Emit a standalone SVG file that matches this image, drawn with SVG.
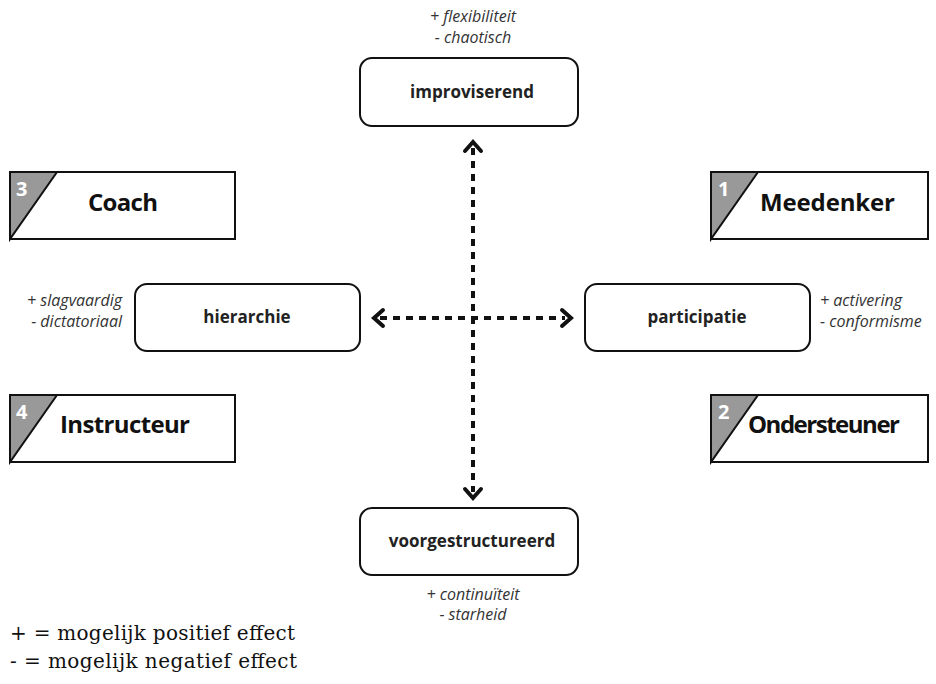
<svg xmlns="http://www.w3.org/2000/svg" width="936" height="684" viewBox="0 0 936 684">
<style>
.box{fill:#fff;stroke:#111;stroke-width:2}
.tri{fill:#999;stroke:#111;stroke-width:2}
.lbl{font-family:"Open Sans","Liberation Sans",sans-serif;font-weight:bold;font-size:17px;fill:#222;text-anchor:middle}
.role{font-family:"Open Sans","Liberation Sans",sans-serif;font-weight:bold;font-size:24px;fill:#111}
.num{font-family:"Open Sans","Liberation Sans",sans-serif;font-weight:bold;font-size:20px;fill:#fff}
.eff{font-family:"Open Sans","Liberation Sans",sans-serif;font-style:italic;font-size:16px;fill:#333}
.leg{font-family:"DejaVu Serif",serif;font-size:20px;fill:#111}
.dash{stroke:#111;stroke-width:4;stroke-dasharray:7 6;fill:none}
.head{stroke:#111;stroke-width:4;fill:none;stroke-linecap:round;stroke-linejoin:miter}
</style>
<rect width="936" height="684" fill="#fff"/>
<g id="connectors">
<line class="dash" x1="473" y1="148" x2="473" y2="492"/>
<polyline class="head" points="465,151 473,142 481,151"/>
<polyline class="head" points="465,489 473,498 481,489"/>
<line class="dash" x1="380" y1="318" x2="565" y2="318"/>
<polyline class="head" points="383,310 374,318 383,326"/>
<polyline class="head" points="562,310 571,318 562,326"/>
</g>
<g id="improviserend">
<text class="eff" x="473" y="22" text-anchor="middle">+ flexibiliteit</text>
<text class="eff" x="473" y="43" text-anchor="middle">- chaotisch</text>
<rect class="box" x="360" y="58" width="218" height="68" rx="12"/>
<text class="lbl" x="472" y="98">improviserend</text>
</g>
<g id="voorgestructureerd">
<rect class="box" x="360" y="508" width="218" height="67" rx="12"/>
<text class="lbl" x="472" y="547">voorgestructureerd</text>
<text class="eff" x="473" y="600" text-anchor="middle">+ continuïteit</text>
<text class="eff" x="473" y="620" text-anchor="middle">- starheid</text>
</g>
<g id="hierarchie">
<text class="eff" x="122" y="306" text-anchor="end">+ slagvaardig</text>
<text class="eff" x="122" y="327" text-anchor="end">- dictatoriaal</text>
<rect class="box" x="135" y="284" width="225" height="67" rx="12"/>
<text class="lbl" x="247" y="323">hierarchie</text>
</g>
<g id="participatie">
<rect class="box" x="585" y="284" width="225" height="67" rx="12"/>
<text class="lbl" x="697" y="323">participatie</text>
<text class="eff" x="820" y="306">+ activering</text>
<text class="eff" x="820" y="327">- conformisme</text>
</g>
<g id="coach">
<rect class="box" x="10" y="172" width="225" height="67"/>
<polygon class="tri" points="10,172 57,172 10,239"/>
<text class="num" x="16" y="196">3</text>
<text class="role" x="88" y="211" textLength="70">Coach</text>
</g>
<g id="meedenker">
<rect class="box" x="711" y="172" width="217" height="67"/>
<polygon class="tri" points="711,172 758,172 711,239"/>
<text class="num" x="718" y="196">1</text>
<text class="role" x="760" y="211" textLength="135">Meedenker</text>
</g>
<g id="instructeur">
<rect class="box" x="10" y="395" width="225" height="67"/>
<polygon class="tri" points="10,395 57,395 10,462"/>
<text class="num" x="16" y="419">4</text>
<text class="role" x="60" y="433" textLength="130">Instructeur</text>
</g>
<g id="ondersteuner">
<rect class="box" x="711" y="395" width="217" height="67"/>
<polygon class="tri" points="711,395 758,395 711,462"/>
<text class="num" x="718" y="419">2</text>
<text class="role" x="748" y="433" textLength="152">Ondersteuner</text>
</g>
<g id="legend">
<text class="leg" x="10" y="640" textLength="285">+ = mogelijk positief effect</text>
<text class="leg" x="10" y="668" textLength="287">- = mogelijk negatief effect</text>
</g>
</svg>
